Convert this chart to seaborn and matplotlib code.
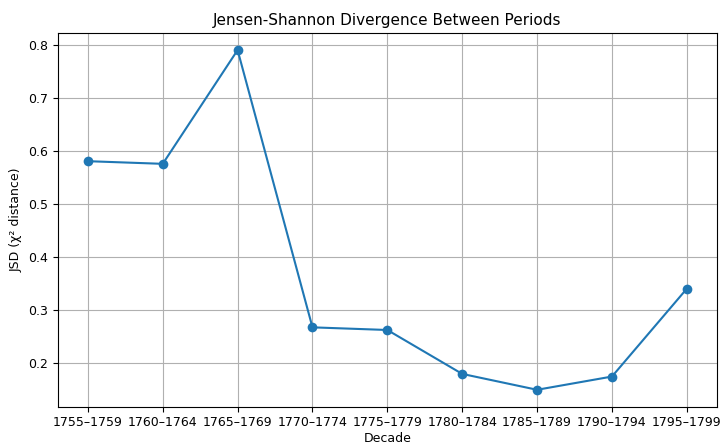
import matplotlib
matplotlib.use("Agg")
import matplotlib.pyplot as plt
import seaborn as sns
import pandas as pd

periods = ["1755–1759", "1760–1764", "1765–1769", "1770–1774", "1775–1779",
           "1780–1784", "1785–1789", "1790–1794", "1795–1799"]
jsd = [0.581, 0.576, 0.791, 0.267, 0.262, 0.179, 0.149, 0.174, 0.340]

df = pd.DataFrame({"Decade": periods, "JSD": jsd})

plt.rcParams["font.family"] = ["DejaVu Sans"]
plt.rcParams["font.size"] = 9

fig, ax = plt.subplots(figsize=(7.24, 4.47), dpi=100)
sns.lineplot(data=df, x="Decade", y="JSD", marker="o", markersize=7,
             markeredgewidth=0, color="#1f77b4", linewidth=1.5, sort=False, ax=ax)
ax.grid(True, color="#b0b0b0", linewidth=0.8)
ax.set_axisbelow(True)
ax.set_title("Jensen-Shannon Divergence Between Periods", fontsize=11)
ax.set_xlabel("Decade", labelpad=2)
ax.set_ylabel("JSD (χ² distance)")
ax.margins(x=0.05, y=0.05)
fig.subplots_adjust(left=0.080, right=0.990, bottom=0.090, top=0.926)
fig.savefig("out.png", dpi=100)
